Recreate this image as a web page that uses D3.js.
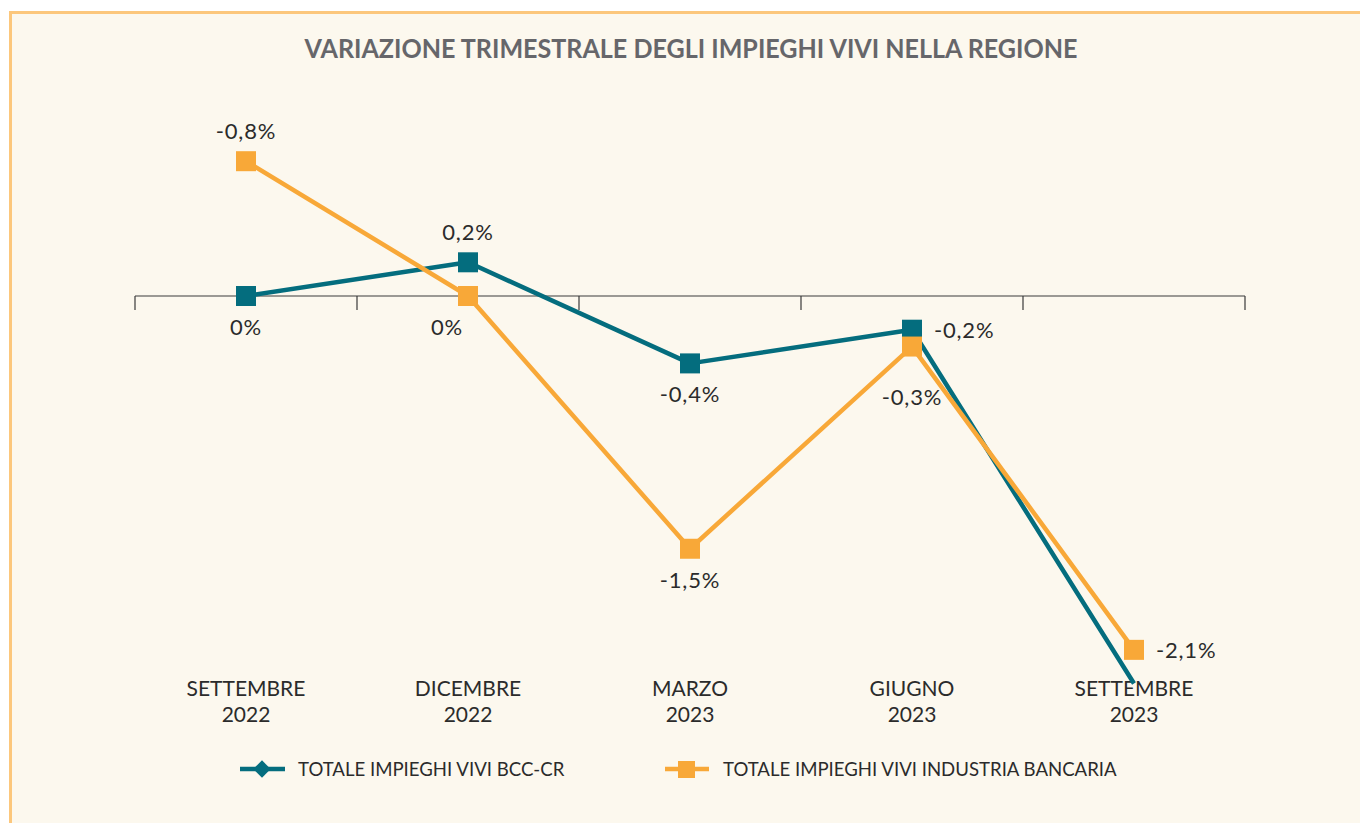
<!DOCTYPE html>
<html>
<head>
<meta charset="utf-8">
<script src="https://cdn.jsdelivr.net/npm/d3@7"></script>
<style>
  html, body { margin: 0; padding: 0; background: #fff; }
  svg { display: block; }
</style>
</head>
<body>
<script>
// data
var categories = [["SETTEMBRE", "2022"], ["DICEMBRE", "2022"], ["MARZO", "2023"], ["GIUGNO", "2023"], ["SETTEMBRE", "2023"]];
var bccValues = [0, 0.2, -0.4, -0.2, -2.3];
var bccLabels = ["0%", "0,2%", "-0,4%", "-0,2%", null];
var bccLabelPos = ["below", "above", "below", "right", null];
var bancaValues = [0.8, 0, -1.5, -0.3, -2.1];
var bancaLabels = ["-0,8%", "0%", "-1,5%", "-0,3%", "-2,1%"];
var bancaLabelPos = ["above", "belowLeft", "below", "belowFar", "right"];
var seriesNames = ["TOTALE IMPIEGHI VIVI BCC-CR", "TOTALE IMPIEGHI VIVI INDUSTRIA BANCARIA"];

var W = 1360, H = 823;
var teal = "#046d7e", orange = "#f8a838";
var font = "'Lato', 'DejaVu Sans', sans-serif";

var svg = d3.select("body").append("svg").attr("width", W).attr("height", H);

svg.append("rect").attr("x", 0).attr("y", 0).attr("width", W).attr("height", H).attr("fill", "#fff");
svg.append("rect").attr("x", 10.5).attr("y", 12.5).attr("width", W + 20).attr("height", H + 20)
   .attr("fill", "#fcf8ee").attr("stroke", "#fcc77c").attr("stroke-width", 3);

svg.append("text").attr("x", 691).attr("y", 58)
   .attr("text-anchor", "middle").attr("font-family", font).attr("font-weight", "bold")
   .attr("font-size", "27px").attr("fill", "#66666a")
   .attr("textLength", 773).attr("lengthAdjust", "spacingAndGlyphs")
   .text("VARIAZIONE TRIMESTRALE DEGLI IMPIEGHI VIVI NELLA REGIONE");

var x = d3.scaleBand().domain(d3.range(categories.length)).range([135, 1245]);
var y = d3.scaleLinear().domain([0, -1]).range([296, 464.5]);
function cx(i) { return x(i) + x.bandwidth() / 2; }

// axis line with ticks at band edges
var axis = svg.append("g");
axis.append("line").attr("x1", x.range()[0]).attr("x2", x.range()[1])
    .attr("y1", y(0)).attr("y2", y(0)).attr("stroke", "#3a3a3a").attr("stroke-width", 1.2);
var edges = x.domain().map(function(i) { return x(i); }).concat([x.range()[1]]);
axis.selectAll("line.tick").data(edges).enter().append("line").attr("class", "tick")
    .attr("x1", function(d) { return d; }).attr("x2", function(d) { return d; })
    .attr("y1", y(0)).attr("y2", y(0) + 14).attr("stroke", "#3a3a3a").attr("stroke-width", 1.2);

// category labels
var cat = svg.selectAll("text.cat").data(categories).enter().append("text").attr("class", "cat")
   .attr("text-anchor", "middle").attr("font-family", font).attr("font-size", "21px").attr("fill", "#2b2b2b");
cat.append("tspan").attr("x", function(d, i) { return cx(i); }).attr("y", 696).text(function(d) { return d[0]; });
cat.append("tspan").attr("x", function(d, i) { return cx(i); }).attr("y", 722).text(function(d) { return d[1]; });

var line = d3.line().x(function(d, i) { return cx(i); }).y(function(d) { return y(d); });

function drawSeries(values, labels, pos, color) {
  var g = svg.append("g");
  g.append("path").datum(values).attr("d", line).attr("fill", "none")
   .attr("stroke", color).attr("stroke-width", 4.5).attr("stroke-linejoin", "round");
  var pts = values.map(function(v, i) { return {v: v, i: i, label: labels[i], pos: pos[i]}; })
                  .filter(function(d) { return d.label !== null; });
  g.selectAll("rect").data(pts).enter().append("rect")
   .attr("x", function(d) { return cx(d.i) - 10; })
   .attr("y", function(d) { return y(d.v) - 10; })
   .attr("width", 20).attr("height", 20).attr("fill", color);
  return pts;
}

function drawLabels(pts) {
  svg.selectAll(null).data(pts).enter().append("text")
   .attr("font-family", font).attr("font-size", "22px").attr("letter-spacing", "0.8px").attr("fill", "#2b2b2b")
   .attr("text-anchor", function(d) { return d.pos === "right" ? "start" : "middle"; })
   .attr("x", function(d) {
     if (d.pos === "right") return cx(d.i) + 22;
     if (d.pos === "belowLeft") return cx(d.i) - 21;
     return cx(d.i);
   })
   .attr("y", function(d) {
     var py = y(d.v);
     if (d.pos === "above") return py - 22;
     if (d.pos === "right") return py + 8;
     if (d.pos === "belowFar") return py + 58;
     return py + 39;
   })
   .text(function(d) { return d.label; });
}

var bccPts = drawSeries(bccValues, bccLabels, bccLabelPos, teal);
var bancaPts = drawSeries(bancaValues, bancaLabels, bancaLabelPos, orange);
drawLabels(bccPts);
drawLabels(bancaPts);

// legend
var legend = svg.append("g").attr("font-family", font).attr("font-size", "18.6px").attr("fill", "#2b2b2b");
legend.append("line").attr("x1", 240).attr("x2", 285).attr("y1", 769).attr("y2", 769)
      .attr("stroke", teal).attr("stroke-width", 4.5);
legend.append("path").attr("d", d3.symbol().type(d3.symbolSquare).size(150)())
      .attr("transform", "translate(262,769) rotate(45)").attr("fill", teal);
legend.append("text").attr("x", 298).attr("y", 776).text(seriesNames[0]);
legend.append("line").attr("x1", 665).attr("x2", 709).attr("y1", 769).attr("y2", 769)
      .attr("stroke", orange).attr("stroke-width", 4.5);
legend.append("rect").attr("x", 678).attr("y", 761).attr("width", 17).attr("height", 17).attr("fill", orange);
legend.append("text").attr("x", 723).attr("y", 776).text(seriesNames[1]);
</script>
</body>
</html>
